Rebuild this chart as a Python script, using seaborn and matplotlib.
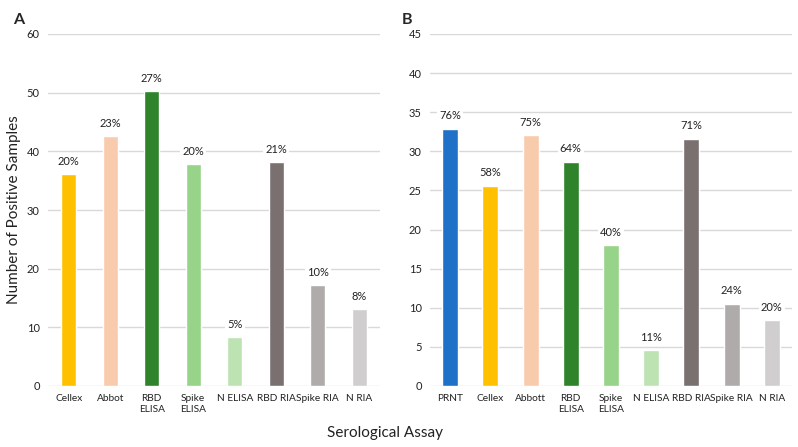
import seaborn as sns
import matplotlib.pyplot as plt
import pandas as pd

# panel A
assays_a = ['Cellex', 'Abbot', 'RBD\nELISA', 'Spike\nELISA', 'N ELISA', 'RBD RIA', 'Spike RIA', 'N RIA']
counts_a = [36.1, 42.6, 50.3, 37.8, 8.3, 38.1, 17.2, 13.1]
pct_a = ['20%', '23%', '27%', '20%', '5%', '21%', '10%', '8%']
colors_a = ['#FFC000', '#F8CBAD', '#2E832B', '#98D38A', '#BDE3B3', '#7A7070', '#AFABAB', '#D0CECE']

# panel B
assays_b = ['PRNT', 'Cellex', 'Abbott', 'RBD\nELISA', 'Spike\nELISA', 'N ELISA', 'RBD RIA', 'Spike RIA', 'N RIA']
counts_b = [32.9, 25.6, 32.05, 28.7, 18.0, 4.6, 31.6, 10.5, 8.4]
pct_b = ['76%', '58%', '75%', '64%', '40%', '11%', '71%', '24%', '20%']
colors_b = ['#1F71C8'] + colors_a

sns.set_style('white')
plt.rcParams['font.family'] = ['Lato', 'DejaVu Sans']

fig = plt.figure(figsize=(7.98, 4.47), dpi=100)
ax_a = fig.add_axes([48 / 798, 1 - 386 / 447, 332 / 798, 352 / 447])
ax_b = fig.add_axes([430 / 798, 1 - 386 / 447, 362 / 798, 352 / 447])


def draw(ax, assays, counts, pct, colors, ymax, step, width, off):
    df = pd.DataFrame({'assay': assays, 'count': counts})
    sns.barplot(data=df, x='assay', y='count', hue='assay', palette=colors,
                width=width, legend=False, ax=ax, saturation=1)
    ax.set_ylim(0, ymax)
    ax.set_yticks(range(0, ymax + 1, step))
    ax.grid(axis='y', color='#D9D9D9', linewidth=1)
    ax.set_axisbelow(True)
    for s in ax.spines.values():
        s.set_visible(False)
    ax.tick_params(axis='y', length=0, labelsize=8, colors='#222222', pad=6)
    ax.tick_params(axis='x', length=0, labelsize=7.3, colors='#222222', pad=6)
    ax.set_xlabel('')
    ax.set_ylabel('')
    for i, (c, p) in enumerate(zip(counts, pct)):
        ax.text(i, c + off, p, ha='center', va='center', fontsize=8, color='#222222',
                bbox=dict(facecolor='white', edgecolor='none', pad=1.5))


draw(ax_a, assays_a, counts_a, pct_a, colors_a, 60, 10, 0.37, 2.2)
draw(ax_b, assays_b, counts_b, pct_b, colors_b, 45, 5, 0.4, 1.65)

fig.text(13 / 798, 1 - 20 / 447, 'A', fontsize=11.5, fontweight='bold', ha='left', va='center')
fig.text(402 / 798, 1 - 20 / 447, 'B', fontsize=11.5, fontweight='bold', ha='left', va='center')
fig.text(14 / 798, 1 - 210 / 447, 'Number of Positive Samples', rotation=90, fontsize=11,
         ha='center', va='center', color='#222222')
fig.text(385 / 798, 1 - 433 / 447, 'Serological Assay', fontsize=11, ha='center', va='center',
         color='#222222')

fig.savefig('out.png', dpi=100)
